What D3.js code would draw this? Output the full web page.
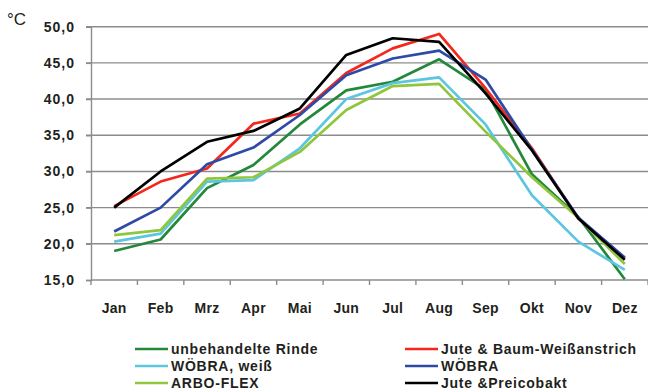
<!DOCTYPE html>
<html>
<head>
<meta charset="utf-8">
<script src="https://cdn.jsdelivr.net/npm/d3@7"></script>
<style>
  html, body { margin: 0; padding: 0; background: #fff; }
  svg { display: block; font-family: "Liberation Sans", Arial, sans-serif; }
</style>
</head>
<body>
<svg id="chart" width="648" height="391"></svg>
<script>
// Monthly temperatures (°C) measured on differently treated bark
const months = ["Jan", "Feb", "Mrz", "Apr", "Mai", "Jun", "Jul", "Aug", "Sep", "Okt", "Nov", "Dez"];
const yTicks = [15, 20, 25, 30, 35, 40, 45, 50];

const unbehandelteRinde = [19.0, 20.6, 27.7, 30.9, 36.5, 41.2, 42.4, 45.5, 41.3, 29.6, 23.7, 15.1];
const woebraWeiss       = [20.3, 21.4, 28.6, 28.8, 33.2, 40.0, 42.2, 43.0, 36.5, 26.7, 20.3, 16.4];
const arboFlex          = [21.2, 21.9, 29.0, 29.2, 32.7, 38.5, 41.8, 42.1, 35.5, 29.2, 23.6, 17.2];
const juteBaumWeiss     = [25.2, 28.6, 30.4, 36.6, 38.0, 43.6, 47.0, 49.0, 41.5, 33.2, 23.5, 18.0];
const woebra            = [21.7, 25.0, 31.0, 33.3, 37.8, 43.3, 45.6, 46.7, 42.7, 33.0, 23.6, 18.1];
const jutePreicobakt    = [25.0, 30.0, 34.1, 35.6, 38.7, 46.1, 48.4, 47.9, 40.8, 32.9, 23.5, 17.8];

const series = [
  { name: "unbehandelte Rinde",        values: unbehandelteRinde, color: "#23883a" },
  { name: "WÖBRA, weiß",               values: woebraWeiss,       color: "#5cc6e0" },
  { name: "ARBO-FLEX",                 values: arboFlex,          color: "#8fc63c" },
  { name: "Jute & Baum-Weißanstrich",  values: juteBaumWeiss,     color: "#f5261c" },
  { name: "WÖBRA",                     values: woebra,            color: "#2c4aa6" },
  { name: "Jute &Preicobakt",          values: jutePreicobakt,    color: "#000000" }
];

// legend layout: two columns, three rows
const legendOrder = [
  ["unbehandelte Rinde", 0, 0],
  ["WÖBRA, weiß", 0, 1],
  ["ARBO-FLEX", 0, 2],
  ["Jute & Baum-Weißanstrich", 1, 0],
  ["WÖBRA", 1, 1],
  ["Jute &Preicobakt", 1, 2]
];

const svg = d3.select("#chart");
const plotLeft = 91, plotRight = 648, plotTop = 26.7, plotBottom = 280;

const x = d3.scaleBand().domain(months).range([plotLeft, plotRight]).padding(0);
const y = d3.scaleLinear().domain([15, 50]).range([plotBottom, plotTop]);
const fmt = d3.formatLocale({ decimal: ",", thousands: ".", grouping: [3], currency: ["", "€"] }).format(".1f");

const gridColor = "#8c8c8c";
const textColor = "#231f20";

// horizontal gridlines with short tick stubs to the left of the axis
svg.append("g")
  .selectAll("line")
  .data(yTicks.filter(d => d > 15))
  .join("line")
  .attr("x1", plotLeft - 5).attr("x2", plotRight)
  .attr("y1", d => y(d)).attr("y2", d => y(d))
  .attr("stroke", gridColor).attr("stroke-width", 1.4);

// y axis
const yAxis = svg.append("g")
  .attr("transform", `translate(${plotLeft},0)`)
  .call(d3.axisLeft(y).tickValues(yTicks).tickFormat(fmt).tickSize(5).tickPadding(11));
yAxis.select(".domain").attr("stroke", gridColor).attr("stroke-width", 1.4);
yAxis.selectAll(".tick line").attr("stroke", gridColor).attr("stroke-width", 1.4);
yAxis.selectAll(".tick text")
  .attr("fill", textColor).attr("font-size", 14).attr("font-weight", "bold")
  .attr("letter-spacing", 1)
  .attr("font-family", "Liberation Sans, Arial, sans-serif");

// x axis with ticks between categories
const xAxis = svg.append("g").attr("transform", `translate(0,${plotBottom})`);
xAxis.append("line")
  .attr("x1", plotLeft).attr("x2", plotRight)
  .attr("stroke", gridColor).attr("stroke-width", 1.4);
xAxis.selectAll("line.tk")
  .data(months)
  .join("line").attr("class", "tk")
  .attr("x1", d => x(d) + x.bandwidth()).attr("x2", d => x(d) + x.bandwidth())
  .attr("y1", 0).attr("y2", 5)
  .attr("stroke", gridColor).attr("stroke-width", 1.4);
xAxis.append("line")
  .attr("x1", plotLeft).attr("x2", plotLeft).attr("y1", 0).attr("y2", 5)
  .attr("stroke", gridColor).attr("stroke-width", 1.4);
xAxis.selectAll("text")
  .data(months)
  .join("text")
  .attr("x", d => x(d) + x.bandwidth() / 2)
  .attr("y", 33)
  .attr("text-anchor", "middle")
  .attr("fill", textColor).attr("font-size", 14).attr("font-weight", "bold")
  .attr("letter-spacing", 0.3)
  .text(d => d);

// unit label
svg.append("text")
  .attr("x", 7).attr("y", 25)
  .attr("fill", textColor).attr("font-size", 17)
  .text("°C");

// series lines
const line = d3.line()
  .x((d, i) => x(months[i]) + x.bandwidth() / 2)
  .y(d => y(d));

svg.append("g")
  .selectAll("path")
  .data(series)
  .join("path")
  .attr("d", d => line(d.values))
  .attr("fill", "none")
  .attr("stroke", d => d.color)
  .attr("stroke-width", 2.7)
  .attr("stroke-linejoin", "round");

// legend
const colX = [135, 405], rowY = [349, 366, 383];
const leg = svg.append("g")
  .selectAll("g")
  .data(legendOrder)
  .join("g")
  .attr("transform", d => `translate(${colX[d[1]]},${rowY[d[2]]})`);
leg.append("line")
  .attr("x1", 0).attr("x2", 33)
  .attr("stroke", d => series.find(s => s.name === d[0]).color)
  .attr("stroke-width", 2.7);
leg.append("text")
  .attr("x", 36).attr("y", 5)
  .attr("fill", textColor).attr("font-size", 14).attr("font-weight", "bold")
  .attr("letter-spacing", 0.75)
  .text(d => d[0]);
</script>
</body>
</html>
